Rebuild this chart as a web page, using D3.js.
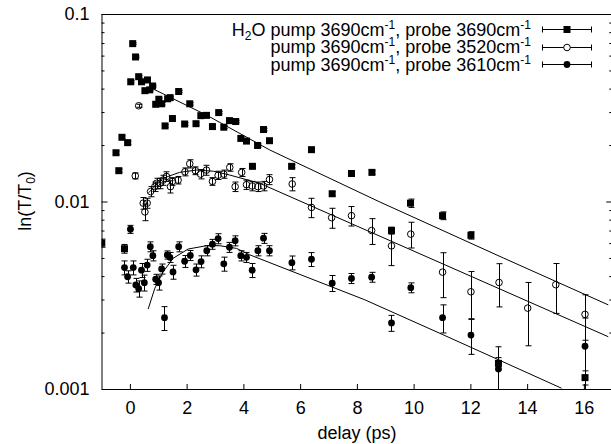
<!DOCTYPE html>
<html>
<head>
<meta charset="utf-8">
<script src="https://cdn.jsdelivr.net/npm/d3@7/dist/d3.min.js"></script>
<style>
  html, body { margin: 0; padding: 0; background: #fff; }
  svg { display: block; font-family: "Liberation Sans", Arial, Helvetica, sans-serif; }
</style>
</head>
<body>
<svg id="chart" width="611" height="444"></svg>
<script>
// ---- H2O pump 3690 cm-1, probe 3690 cm-1 (filled squares)
const delayA = [-0.99, -0.49, -0.39, -0.28, -0.19, -0.08, 0.03, 0.10, 0.20, 0.31, 0.41, 0.53, 0.62, 0.70, 0.80,
  0.91, 1.02, 1.12, 1.24, 1.33, 1.42, 1.50, 1.72, 1.93, 2.11, 2.33, 2.50, 2.70, 2.91, 3.13, 3.31, 3.51, 3.73,
  3.91, 4.11, 4.32, 4.50, 4.71, 4.92, 5.70, 6.40, 7.13, 7.81, 8.53, 9.22, 9.89, 11.02, 12.02, 12.99, 16.04];
const signalA = [0.0060, 0.0182, 0.0146, 0.0220, 0.0056, 0.0206, 0.0435, 0.0695, 0.0590, 0.0463, 0.0435, 0.0390,
  0.0445, 0.0394, 0.0413, 0.0330, 0.0351, 0.0332, 0.0253, 0.0353, 0.0358, 0.0277, 0.0386, 0.0259, 0.0332, 0.0260,
  0.0287, 0.0288, 0.0251, 0.0298, 0.0249, 0.0270, 0.0267, 0.0217, 0.0210, 0.0154, 0.0199, 0.0242, 0.0211, 0.0154,
  0.0189, 0.0110, 0.0141, 0.0143, 0.0070, 0.0098, 0.0084, 0.0066, 0.00137, 0.00115];
const errorA = [0.0003, 0.0004, 0.0003, 0.0004, 0.0003, 0.0004, 0.0006, 0.0008, 0.0007, 0.0006, 0.0006, 0.0005,
  0.0006, 0.0005, 0.0005, 0.0005, 0.0005, 0.0005, 0.0004, 0.0005, 0.0005, 0.0004, 0.0005, 0.0004, 0.0005, 0.0004,
  0.0004, 0.0004, 0.0004, 0.0004, 0.0004, 0.0004, 0.0004, 0.0004, 0.0004, 0.0003, 0.0004, 0.0004, 0.0004, 0.0003,
  0.0004, 0.0003, 0.0003, 0.0003, 0.0003, 0.0005, 0.0004, 0.0003, 0.0001, 0.0001];

// ---- pump 3690 cm-1, probe 3520 cm-1 (open circles)
const delayB = [0.19, 0.31, 0.47, 0.53, 0.61, 0.73, 0.88, 0.94, 1.06, 1.17, 1.29, 1.43, 1.50, 1.70, 1.94, 2.11,
  2.31, 2.49, 2.70, 2.91, 3.11, 3.31, 3.52, 3.71, 3.94, 4.11, 4.31, 4.51, 4.71, 4.92, 5.72, 6.40, 7.11, 7.81,
  8.52, 9.22, 9.90, 11.02, 12.02, 13.01, 14.02, 15.01, 16.04];
const signalB = [0.0137, 0.0324, 0.0098, 0.0088, 0.0098, 0.0113, 0.0120, 0.0125, 0.0125, 0.0130, 0.0136, 0.0120,
  0.0128, 0.0130, 0.0144, 0.0159, 0.0146, 0.0140, 0.0147, 0.0128, 0.0138, 0.0140, 0.0152, 0.0120, 0.0143, 0.0123,
  0.0121, 0.0120, 0.0121, 0.0131, 0.0124, 0.0093, 0.0082, 0.0084, 0.0070, 0.0058, 0.0067, 0.0042, 0.0033, 0.0037,
  0.0027, 0.0036, 0.0025];
const errorB = [0.0005, 0.0006, 0.0007, 0.0009, 0.0006, 0.0007, 0.0007, 0.0008, 0.0008, 0.0008, 0.0008, 0.0009,
  0.0006, 0.0006, 0.0007, 0.0008, 0.0007, 0.0008, 0.0009, 0.0006, 0.0007, 0.0007, 0.0007, 0.0007, 0.0007, 0.0007,
  0.0007, 0.0007, 0.0007, 0.0008, 0.0010, 0.0011, 0.0010, 0.0010, 0.0011, 0.00125, 0.00105, 0.00113, 0.00093,
  0.00096, 0.0010, 0.00107, 0.00068];

// ---- pump 3690 cm-1, probe 3610 cm-1 (filled circles)
const delayC = [-0.19, -0.08, 0.02, 0.12, 0.21, 0.31, 0.41, 0.51, 0.61, 0.72, 0.81, 0.91, 1.01, 1.12, 1.22, 1.32,
  1.41, 1.52, 1.72, 1.93, 2.13, 2.33, 2.51, 2.71, 2.91, 3.11, 3.31, 3.51, 3.71, 3.91, 4.11, 4.31, 4.51, 4.71,
  4.92, 5.71, 6.40, 7.13, 7.81, 8.52, 9.22, 9.90, 11.02, 12.02, 12.99, 16.04];
const signalC = [0.00444, 0.00397, 0.00711, 0.00444, 0.00359, 0.00343, 0.00430, 0.00369, 0.00458, 0.00574,
  0.00514, 0.00385, 0.00369, 0.00437, 0.00240, 0.00519, 0.00504, 0.00421, 0.00574, 0.00480, 0.00516, 0.00432,
  0.00478, 0.00547, 0.00592, 0.00634, 0.00465, 0.00570, 0.00618, 0.00514, 0.00504, 0.00430, 0.00547, 0.00637,
  0.00547, 0.00472, 0.00492, 0.00367, 0.00389, 0.00395, 0.00225, 0.00347, 0.00240, 0.00194, 0.00128, 0.00169];
const errorC = [0.00038, 0.0003, 0.00035, 0.00038, 0.0003, 0.00034, 0.00037, 0.00036, 0.00034, 0.00035, 0.00032,
  0.00024, 0.00032, 0.00027, 0.00035, 0.00026, 0.00031, 0.00036, 0.00035, 0.00035, 0.00032, 0.00032, 0.00035,
  0.00034, 0.00036, 0.00039, 0.0004, 0.00035, 0.00038, 0.00032, 0.00031, 0.00037, 0.00034, 0.00039, 0.00034,
  0.0004, 0.00042, 0.00036, 0.00024, 0.00024, 0.00022, 0.00021, 0.00041, 0.00041, 0.0004, 0.0007];

// ---- fitted curves
const fitDelayA = [0.765, 2.70, 4.93, 8.81, 13.16, 16.86];
const fitValueA = [0.0402, 0.0289, 0.01883, 0.00994, 0.00500, 0.00281];
const fitDelayB = [0.65, 1.17, 1.75, 2.35, 2.95, 3.52, 4.58, 16.86];
const fitValueB = [0.0111, 0.0133, 0.0143, 0.01472, 0.0145, 0.01384, 0.0125, 0.0019];
const fitDelayC = [0.645, 0.881, 1.174, 1.526, 2.055, 2.703, 3.17, 3.76, 4.23, 8.28, 10.93, 15.21];
const fitValueC = [0.00267, 0.00345, 0.00422, 0.00498, 0.00558, 0.00581, 0.00581, 0.00562, 0.00519, 0.00299,
  0.00198, 0.00101];

// ---- axes
const xTicks = [0, 2, 4, 6, 8, 10, 12, 14, 16];
const yMajorTicks = [0.001, 0.01, 0.1];
const yTickLabels = ["0.001", "0.01", "0.1"];
const legendLabels = [
  [["H", ""], ["2", "sub"], ["O pump 3690cm", ""], ["-1", "sup"], [", probe 3690cm", ""], ["-1", "sup"]],
  [["pump 3690cm", ""], ["-1", "sup"], [", probe 3520cm", ""], ["-1", "sup"]],
  [["pump 3690cm", ""], ["-1", "sup"], [", probe 3610cm", ""], ["-1", "sup"]]
];

(function draw() {
  const svg = d3.select("#chart");
  const pL = 101.5, pR = 612.25, pT = 14, pB = 389;
  const x = d3.scaleLinear().domain([-1, 17]).range([pL, pR]);
  const y = d3.scaleLog().domain([0.001, 0.1]).range([pB, pT]);

  const minorTicks = [];
  [0.001, 0.01].forEach(d => { for (let k = 2; k <= 9; k++) minorTicks.push(d * k); });

  const FS = 18;

  // left axis: labelled major ticks, unlabelled minor ticks
  const yAxis = svg.append("g").attr("transform", `translate(${pL},0)`)
    .call(d3.axisLeft(y).tickValues(yMajorTicks).tickSize(-6).tickSizeOuter(0).tickPadding(12)
      .tickFormat((d, i) => yTickLabels[i]));
  yAxis.selectAll("text").attr("font-size", FS).attr("font-family", null).attr("fill", "#000");
  svg.append("g").attr("transform", `translate(${pL},0)`)
    .call(d3.axisLeft(y).tickValues(minorTicks).tickSize(-3).tickSizeOuter(0).tickFormat(""))
    .select(".domain").remove();

  // right mirror ticks
  svg.append("g").attr("transform", `translate(${pR},0)`)
    .call(d3.axisLeft(y).tickValues(yMajorTicks).tickSize(6).tickSizeOuter(0).tickFormat(""));
  svg.append("g").attr("transform", `translate(${pR},0)`)
    .call(d3.axisLeft(y).tickValues(minorTicks).tickSize(3).tickSizeOuter(0).tickFormat(""))
    .select(".domain").remove();

  // bottom axis
  const xAxis = svg.append("g").attr("transform", `translate(0,${pB})`)
    .call(d3.axisBottom(x).tickValues(xTicks).tickSize(-5).tickSizeOuter(0).tickPadding(12)
      .tickFormat(d3.format("d")));
  xAxis.selectAll("text").attr("font-size", FS).attr("font-family", null).attr("fill", "#000");

  // top border
  svg.append("line").attr("x1", pL).attr("x2", pR).attr("y1", pT + 0.5).attr("y2", pT + 0.5)
    .attr("stroke", "#000");

  // axis titles
  svg.append("text").attr("x", 357).attr("y", 439).attr("text-anchor", "middle").attr("font-size", FS)
    .text("delay (ps)");
  const yl = svg.append("text").attr("transform", "translate(31,201) rotate(-90)")
    .attr("text-anchor", "middle").attr("font-size", FS);
  yl.append("tspan").text("ln(T/T");
  yl.append("tspan").attr("font-size", 12).attr("dy", 4).text("0");
  yl.append("tspan").attr("dy", -4).text(")");

  // plot area clip
  svg.append("clipPath").attr("id", "plotClip").append("rect")
    .attr("x", pL).attr("y", pT).attr("width", pR - pL).attr("height", pB - pT);
  const plot = svg.append("g").attr("clip-path", "url(#plotClip)");

  // fitted curves
  const line = d3.line().x(d => x(d[0])).y(d => y(d[1]));
  [[fitDelayA, fitValueA], [fitDelayB, fitValueB], [fitDelayC, fitValueC]].forEach(([xs, vs]) => {
    plot.append("path").datum(xs.map((d, i) => [d, vs[i]])).attr("d", line)
      .attr("fill", "none").attr("stroke", "#000").attr("stroke-width", 1);
  });

  // error bars
  const yFloor = 0.0009;
  function errorBars(xs, vs, es) {
    const g = plot.append("g").attr("stroke", "#000").attr("stroke-width", 1);
    xs.forEach((d, i) => {
      const cx = Math.round(x(d)) + 0.5;
      const lo = Math.max(vs[i] - es[i], yFloor), hi = vs[i] + es[i];
      const y0 = y(lo), y1 = y(hi);
      g.append("line").attr("x1", cx).attr("x2", cx).attr("y1", y0).attr("y2", y1);
      g.append("line").attr("x1", cx - 3).attr("x2", cx + 3).attr("y1", y0).attr("y2", y0);
      g.append("line").attr("x1", cx - 3).attr("x2", cx + 3).attr("y1", y1).attr("y2", y1);
    });
  }
  errorBars(delayA, signalA, errorA);
  errorBars(delayB, signalB, errorB);
  errorBars(delayC, signalC, errorC);

  // markers
  function squares(g, pts) {
    g.selectAll(null).data(pts).join("rect")
      .attr("x", d => x(d[0]) - 3.5).attr("y", d => y(d[1]) - 3.5).attr("width", 7).attr("height", 7)
      .attr("fill", "#000");
  }
  function openCircles(g, pts) {
    g.selectAll(null).data(pts).join("circle")
      .attr("cx", d => x(d[0])).attr("cy", d => y(d[1])).attr("r", 3.3)
      .attr("fill", "none").attr("stroke", "#000").attr("stroke-width", 1);
  }
  function dots(g, pts) {
    g.selectAll(null).data(pts).join("circle")
      .attr("cx", d => x(d[0])).attr("cy", d => y(d[1])).attr("r", 3.4).attr("fill", "#000");
  }
  squares(plot.append("g"), delayA.map((d, i) => [d, signalA[i]]));
  openCircles(plot.append("g"), delayB.map((d, i) => [d, signalB[i]]));
  dots(plot.append("g"), delayC.map((d, i) => [d, signalC[i]]));

  // legend
  const legendRowY = [29, 46.5, 64];
  const markerFns = [
    (g, cx, cy) => g.append("rect").attr("x", cx - 3.5).attr("y", cy - 3.5).attr("width", 7).attr("height", 7).attr("fill", "#000"),
    (g, cx, cy) => g.append("circle").attr("cx", cx).attr("cy", cy).attr("r", 3.3).attr("fill", "#fff").attr("stroke", "#000"),
    (g, cx, cy) => g.append("circle").attr("cx", cx).attr("cy", cy).attr("r", 3.4).attr("fill", "#000")
  ];
  legendLabels.forEach((parts, i) => {
    const cy = legendRowY[i];
    const t = svg.append("text").attr("x", 531).attr("y", cy + 6.5).attr("text-anchor", "end").attr("font-size", FS);
    let shift = 0;
    parts.forEach(([s, kind]) => {
      const target = kind === "sup" ? -7 : kind === "sub" ? 4 : 0;
      t.append("tspan").attr("dy", target - shift).attr("font-size", kind ? 12 : FS).text(s);
      shift = target;
    });
    const g = svg.append("g");
    const yy = Math.round(cy) + 0.5;
    g.append("line").attr("x1", 542).attr("x2", 592).attr("y1", yy).attr("y2", yy).attr("stroke", "#000");
    g.append("line").attr("x1", 542.5).attr("x2", 542.5).attr("y1", yy - 3).attr("y2", yy + 3).attr("stroke", "#000");
    g.append("line").attr("x1", 591.5).attr("x2", 591.5).attr("y1", yy - 3).attr("y2", yy + 3).attr("stroke", "#000");
    markerFns[i](g, 567, yy);
  });
})();
</script>
</body>
</html>
